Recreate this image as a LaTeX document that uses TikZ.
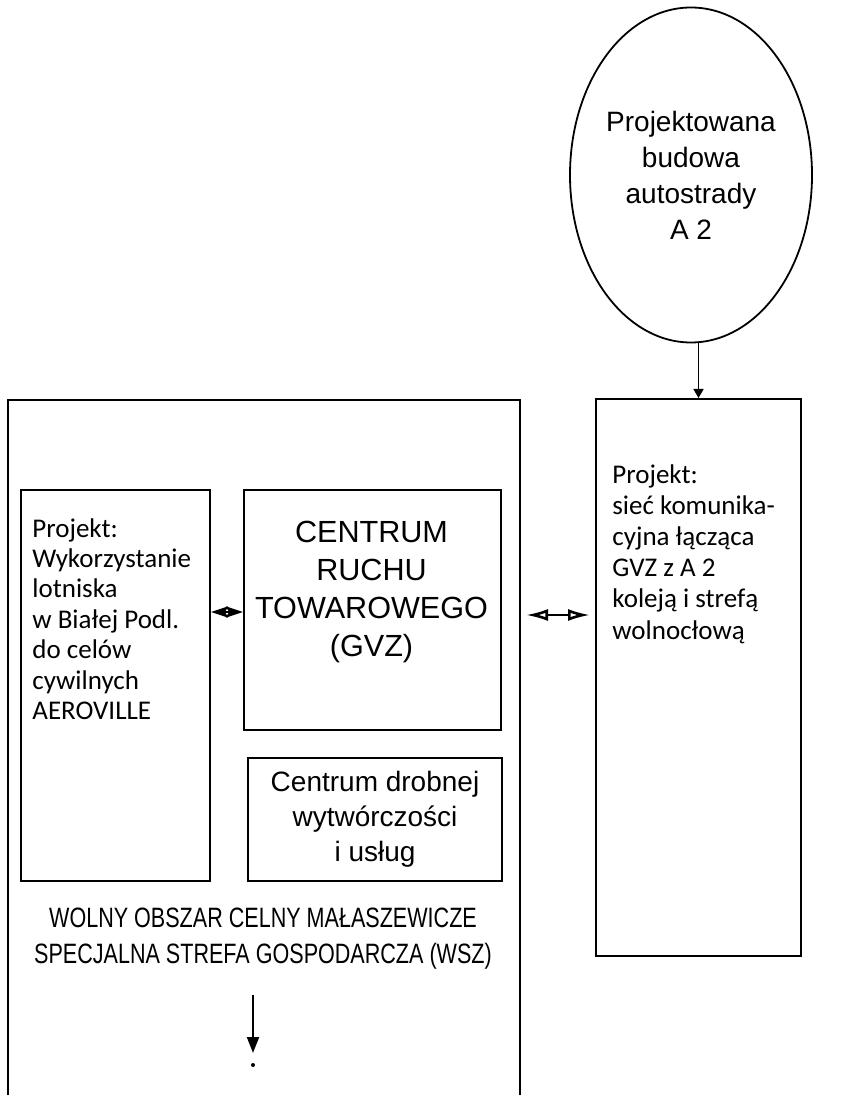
\documentclass[tikz,border=0pt]{standalone}
\usepackage{fontspec}
\newfontfamily\helv{Liberation Sans}
\newfontfamily\helvcond[FakeStretch=0.77]{Liberation Sans}
\newfontfamily\frut{Carlito}
\usepackage{tikz}
\usetikzlibrary{positioning,shapes.geometric,arrows.meta}

\tikzset{
  box/.style={draw,line width=1pt,inner sep=0pt,anchor=north west},
  helvtxt/.style={font=\helv\fontsize{14}{#1}\selectfont,align=center,inner sep=0pt},
  fruttxt/.style={font=\frut\fontsize{13.5}{#1}\selectfont,align=left,inner sep=0pt,anchor=north west},
}

\begin{document}
\begin{tikzpicture}[x=0.5pt,y=-0.5pt]
  \useasboundingbox[fill=white] (0,0) rectangle (846,1095);
  \node[ellipse,draw,line width=0.9pt,inner sep=0pt,minimum width=121pt,minimum height=167.5pt,helvtxt=18pt](a2) at (691,175){Projektowana\\budowa\\autostrady\\A 2};
  \node[box,minimum width=256pt,minimum height=360pt](wsz) at (7,399){};
  \node[box,minimum width=94.5pt,minimum height=195.5pt](lot) at (20,489){};
  \node[box,minimum width=128.5pt,minimum height=120pt](gvz) at (243,489){};
  \node[box,minimum width=127pt,minimum height=61.5pt,helvtxt=17.5pt](drob) at (247,757){Centrum drobnej\\wytwórczości\\i usług};
  \node[box,minimum width=102.5pt,minimum height=278.5pt](siec) at (595,398){};
  \node[fruttxt=15.2pt](lottxt) at (32,518){Projekt:\\Wykorzystanie\\lotniska\\w Białej Podl.\\do celów\\cywilnych\\AEROVILLE};
  \node[helvtxt=19pt,font=\helv\fontsize{15.3}{19}\selectfont](gvztxt) at (371.5,592){CENTRUM\\RUCHU\\TOWAROWEGO\\(GVZ)};
  \node[fruttxt=15.6pt](siectxt) at (612,464){Projekt:\\sieć komunika-\\cyjna łącząca\\GVZ z A 2\\koleją i strefą\\wolnocłową};
  \node[font=\helvcond\fontsize{14}{18}\selectfont,align=center,inner sep=0pt](wsztxt) at (263,939){WOLNY OBSZAR CELNY MAŁASZEWICZE\\SPECJALNA STREFA GOSPODARCZA (WSZ)};
  \coordinate (ly) at (0,612);
  \coordinate (ry) at (0,615);
  \coordinate (dn) at (253,995);
  \coordinate (dnend) at (253,1053);
  \draw[-{Triangle[length=4.5pt,width=5pt]},line width=0.8pt] (a2.south -| siec.north) -- (siec.north);
  \draw[{Stealth[length=8.5pt,width=5.5pt,inset=1.5pt]}-{Stealth[length=8.5pt,width=5.5pt,inset=1.5pt]},line width=1pt] (lot.east |- ly) -- (gvz.west |- ly);
  \draw[{Latex[open,length=11pt,width=6pt]}-{Latex[open,length=11pt,width=6pt]},line width=1.3pt,shorten <=2.5pt,shorten >=2.5pt] (wsz.east |- ry) -- (siec.west |- ry);
  \draw[-{Triangle[length=8pt,width=6pt]},line width=1pt] (dn) -- (dnend);
  \fill (253,1065) circle (1pt);
\end{tikzpicture}
\end{document}
